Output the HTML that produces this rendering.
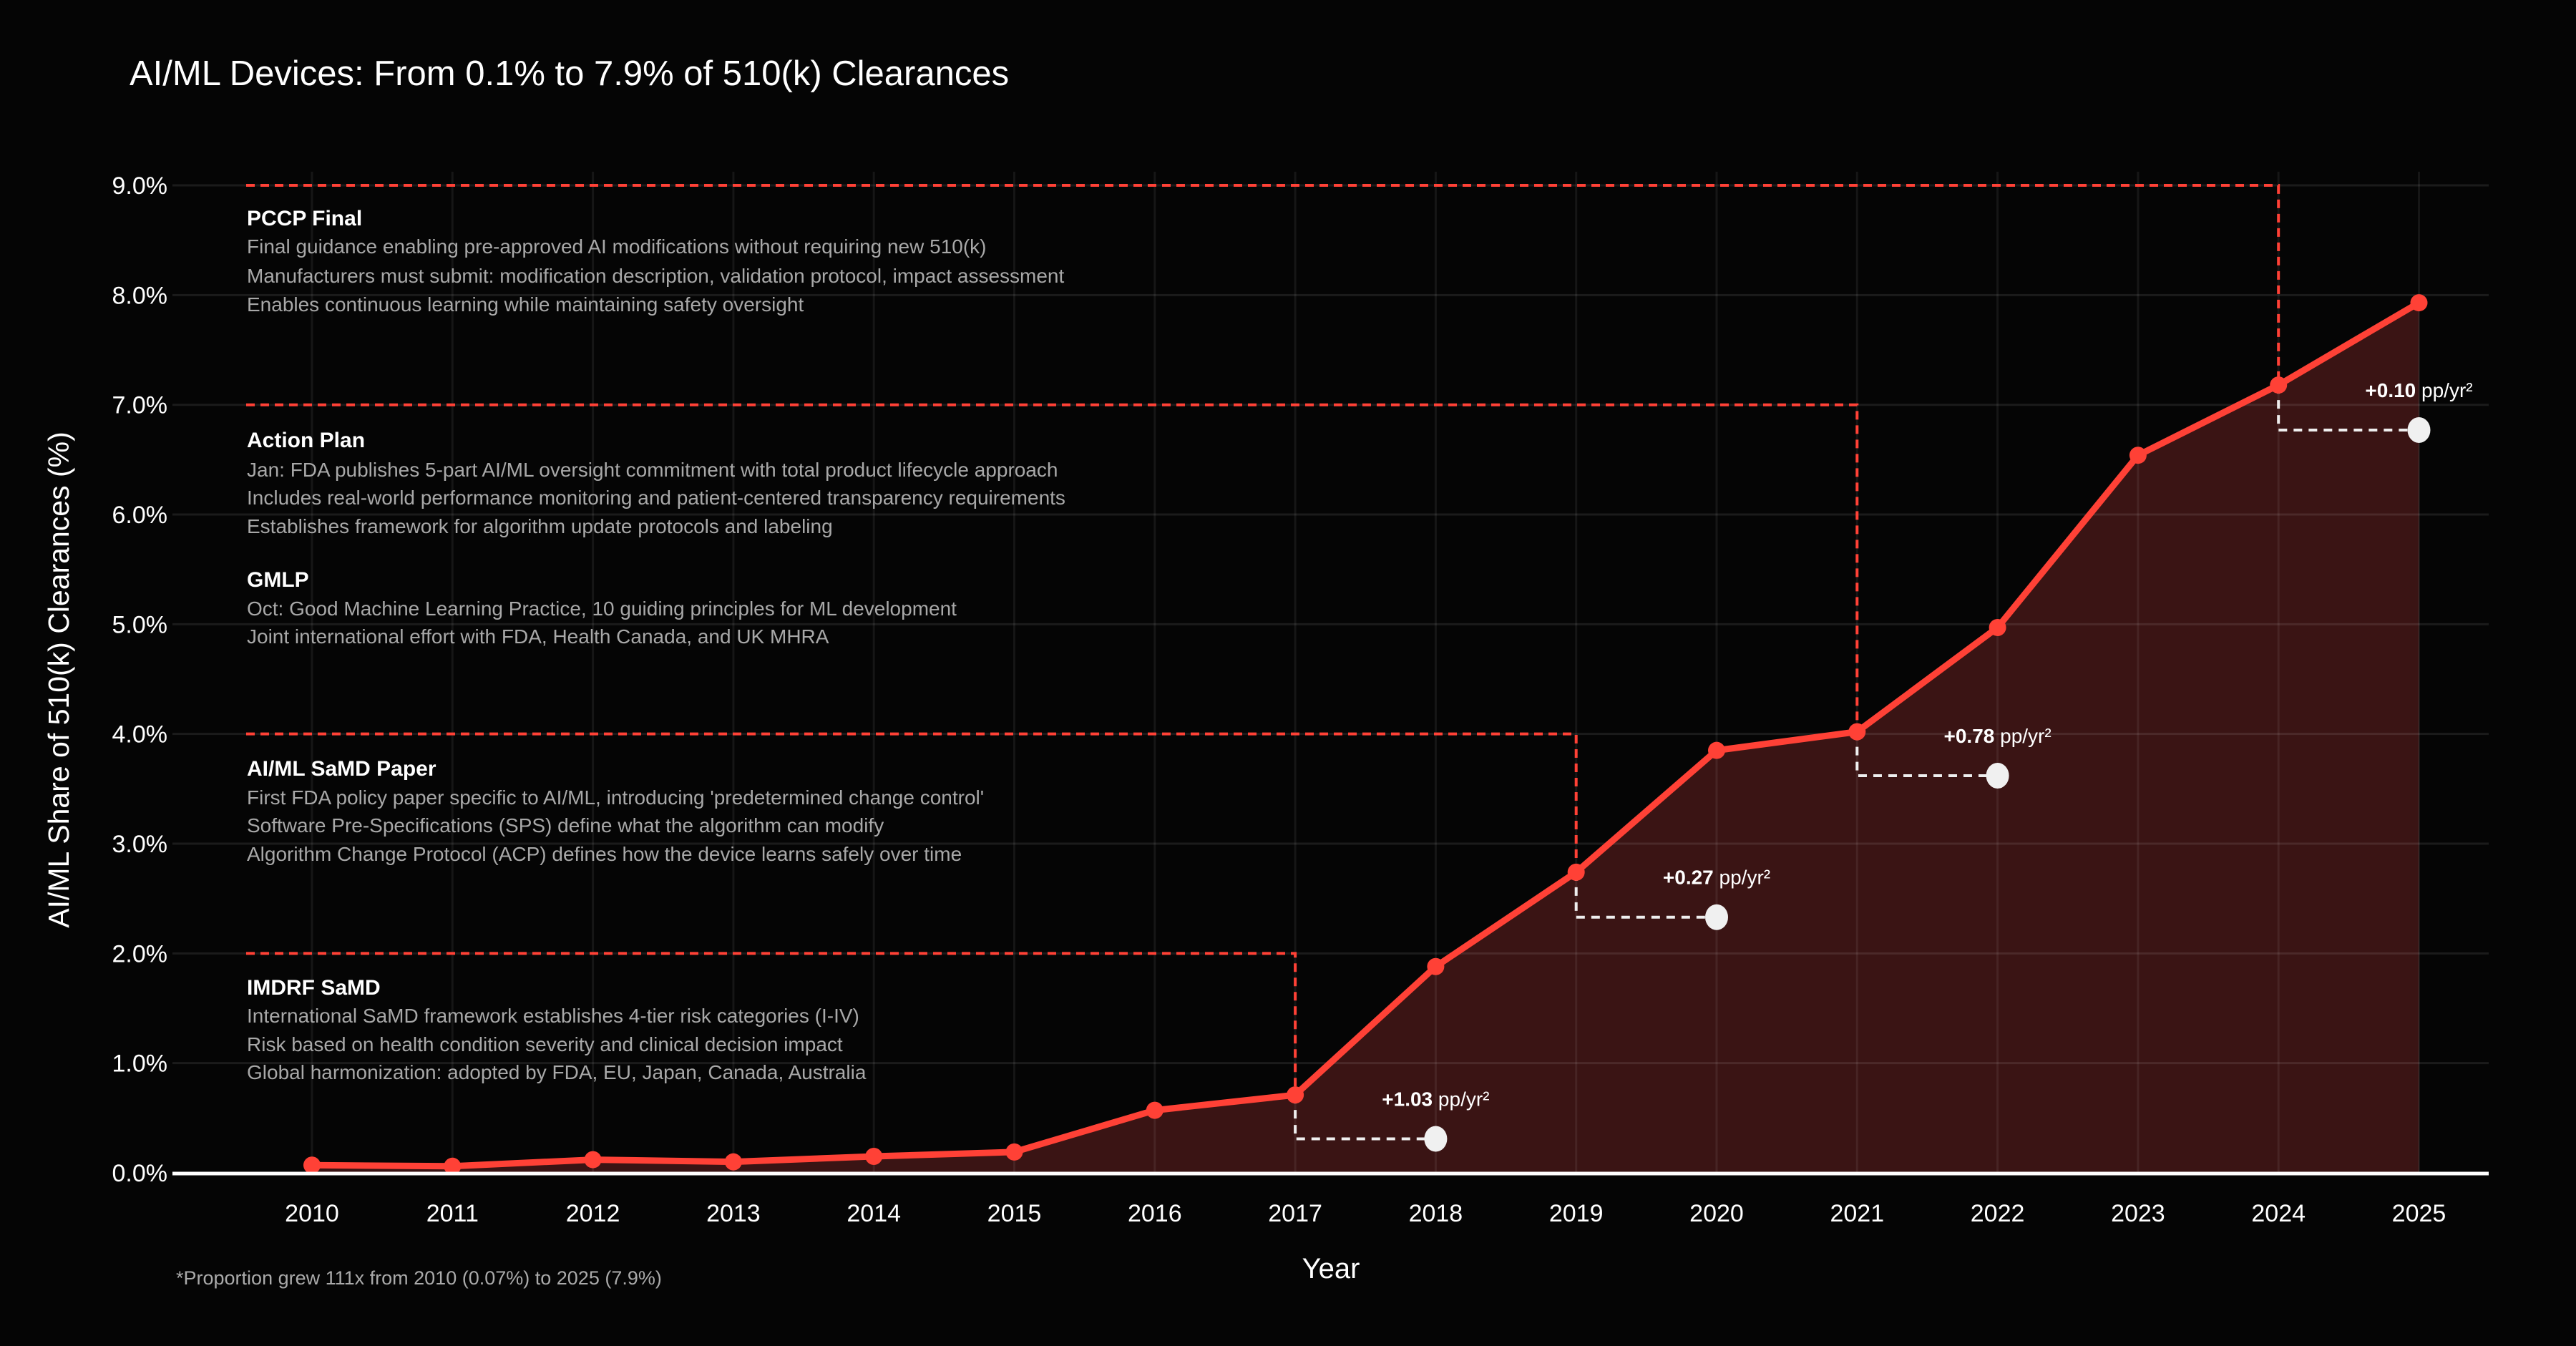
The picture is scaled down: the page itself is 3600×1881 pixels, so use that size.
<!DOCTYPE html>
<html><head><meta charset="utf-8"><style>
html,body{margin:0;padding:0;background:#050505;}
svg{display:block;font-family:"Liberation Sans",sans-serif;}
</style></head><body>
<svg id="chart" width="3600" height="1881" viewBox="0 0 3600 1881">
<rect width="3600" height="1881" fill="#050505"/>
<text x="181" y="119" fill="#fff" font-size="49">AI/ML Devices: From 0.1% to 7.9% of 510(k) Clearances</text>
<g id="grid"></g><g id="area"></g><g id="gridtop"></g><g id="annot"></g><g id="series"></g><g id="axes"></g>
<text x="1860" y="1786" fill="#fff" font-size="40" text-anchor="middle">Year</text>
<text transform="translate(96,950) rotate(-90)" fill="#fff" font-size="41" text-anchor="middle">AI/ML Share of 510(k) Clearances (%)</text>
<text x="246" y="1795" fill="#aaa" font-size="27">*Proportion grew 111x from 2010 (0.07%) to 2025 (7.9%)</text>
</svg>
<script>
const years=[2010,2011,2012,2013,2014,2015,2016,2017,2018,2019,2020,2021,2022,2023,2024,2025];
const share=[0.07,0.06,0.12,0.10,0.15,0.19,0.57,0.71,1.88,2.74,3.85,4.02,4.97,6.54,7.18,7.93];
const yTicks=[0,1,2,3,4,5,6,7,8,9];
const milestoneYears=[2017,2019,2021,2024];
const milestoneLevels=[2,4,7,9];
const accelYears=[2018,2020,2022,2025];
const accelValues=[0.31,2.33,3.62,6.77];
const accelLabels=["+1.03","+0.27","+0.78","+0.10"];
const NS="http://www.w3.org/2000/svg";
const X=y=>436+(y-2010)*196.3;
const Y=v=>1639-v*153.33;
function mk(parent,tag,attrs,text){const e=document.createElementNS(NS,tag);for(const k in attrs)e.setAttribute(k,attrs[k]);if(text!==undefined)e.textContent=text;document.getElementById(parent).appendChild(e);return e;}
yTicks.forEach(t=>{
 const l=mk('gridtop','line',{x1:241,x2:3478,y1:Y(t),y2:Y(t),stroke:'rgba(255,255,255,0.09)','stroke-width':3});
 
 
 const tx=mk('axes','text',{x:234,y:Y(t)+12,fill:'#fff','font-size':34,'text-anchor':'end'},t.toFixed(1)+'%');
 
 
});
years.forEach(y=>{
 const l=mk('gridtop','line',{x1:X(y),x2:X(y),y1:240,y2:1639,stroke:'rgba(255,255,255,0.07)','stroke-width':3});
 
 
 const tx=mk('axes','text',{x:X(y),y:1707,fill:'#fff','font-size':34,'text-anchor':'middle'},y);
 
 
});
let pts=years.map((y,i)=>X(y)+','+Y(share[i])).join(' ');
const ar=mk('area','polygon',{points:X(years[0])+','+Y(0)+' '+pts+' '+X(years[years.length-1])+','+Y(0),fill:'#3a1414'});


milestoneYears.forEach((y,i)=>{
 const i2=years.indexOf(y);
 const p=mk('annot','path',{d:`M344,${Y(milestoneLevels[i])} H${X(y)} V${Y(share[i2])}`,fill:'none',stroke:'#ff4136','stroke-width':4,'stroke-dasharray':'12,8'});
 
 
});
accelYears.forEach((y,i)=>{
 const prev=y-1, pi=years.indexOf(prev);
 const p=mk('annot','path',{d:`M${X(prev)},${Y(share[pi])} V${Y(accelValues[i])} H${X(y)}`,fill:'none',stroke:'#eee','stroke-width':4,'stroke-dasharray':'12,9'});
 
 
 const c=mk('annot','ellipse',{cx:X(y),cy:Y(accelValues[i]),rx:16,ry:18,fill:'#f0f0f0'});
 
 
 const t=mk('annot','text',{x:X(y),y:Y(accelValues[i])-46,fill:'#fff','font-size':28,'text-anchor':'middle'});
 
 
 const b=document.createElementNS(NS,'tspan');b.setAttribute('font-weight','bold');b.textContent=accelLabels[i];t.appendChild(b);
 t.appendChild(document.createTextNode(' pp/yr²'));
});
const ln=mk('series','polyline',{points:pts,fill:'none',stroke:'#ff4136','stroke-width':9,'stroke-linejoin':'round'});


years.forEach((y,i)=>{
 const c=mk('series','circle',{cx:X(y),cy:Y(share[i]),r:12,fill:'#ff4136'});
 
 
});
const base=mk('axes','line',{x1:241,x2:3478,y1:1640,y2:1640,stroke:'#fff','stroke-width':5});


const notes=[
 [305,'PCCP Final',[344,'Final guidance enabling pre-approved AI modifications without requiring new 510(k)',385,'Manufacturers must submit: modification description, validation protocol, impact assessment',425,'Enables continuous learning while maintaining safety oversight']],
 [615,'Action Plan',[656,'Jan: FDA publishes 5-part AI/ML oversight commitment with total product lifecycle approach',695,'Includes real-world performance monitoring and patient-centered transparency requirements',735,'Establishes framework for algorithm update protocols and labeling']],
 [810,'GMLP',[850,'Oct: Good Machine Learning Practice, 10 guiding principles for ML development',889,'Joint international effort with FDA, Health Canada, and UK MHRA']],
 [1074,'AI/ML SaMD Paper',[1114,"First FDA policy paper specific to AI/ML, introducing 'predetermined change control'",1153,'Software Pre-Specifications (SPS) define what the algorithm can modify',1193,'Algorithm Change Protocol (ACP) defines how the device learns safely over time']],
 [1380,'IMDRF SaMD',[1419,'International SaMD framework establishes 4-tier risk categories (I-IV)',1459,'Risk based on health condition severity and clinical decision impact',1498,'Global harmonization: adopted by FDA, EU, Japan, Canada, Australia']]
];
notes.forEach(n=>{
 const t=mk('annot','text',{x:345,y:n[0]+10,fill:'#fff','font-size':30,'font-weight':'bold'},n[1]);
 
 
 for(let k=0;k<n[2].length;k+=2){
  const d=mk('annot','text',{x:345,y:n[2][k]+10,fill:'#a8a8a8','font-size':28},n[2][k+1]);
  
  
 }
});
</script>
</body></html>
